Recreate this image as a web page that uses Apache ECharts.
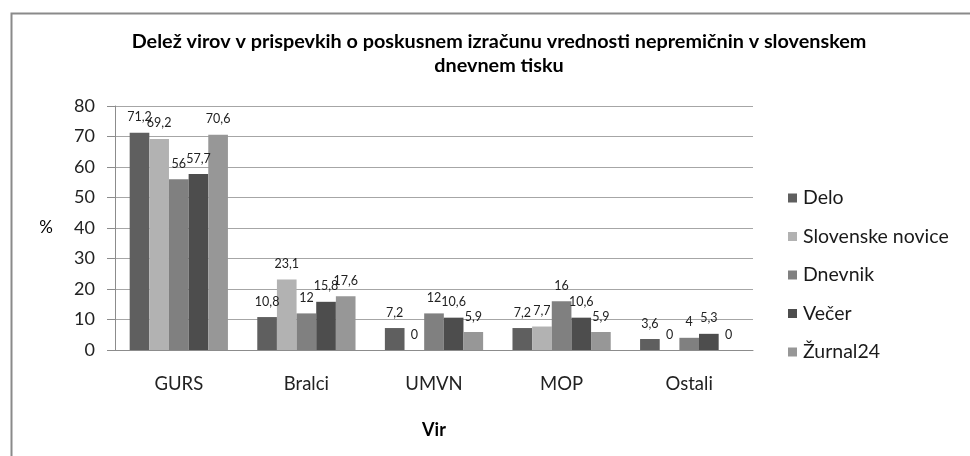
<!DOCTYPE html>
<html>
<head>
<meta charset="utf-8">
<script src="https://cdn.jsdelivr.net/npm/echarts@6/dist/echarts.min.js"></script>
<style>html,body{margin:0;padding:0;background:#fff}#c{width:970px;height:456px}</style>
</head>
<body>
<div id="c"></div>
<script>
const categories = ['GURS', 'Bralci', 'UMVN', 'MOP', 'Ostali'];
const seriesNames = ['Delo', 'Slovenske novice', 'Dnevnik', 'Večer', 'Žurnal24'];
const delo = [71.2, 10.8, 7.2, 7.2, 3.6];
const slovenskeNovice = [69.2, 23.1, 0, 7.7, 0];
const dnevnik = [56, 12, 12, 16, 4];
const vecer = [57.7, 15.8, 10.6, 10.6, 5.3];
const zurnal24 = [70.6, 17.6, 5.9, 5.9, 0];
const yTicks = [0, 10, 20, 30, 40, 50, 60, 70, 80];
const colors = ['#5f5f5f', '#b2b2b2', '#808080', '#4d4d4d', '#979797'];
const allValues = [delo, slovenskeNovice, dnevnik, vecer, zurnal24];
const FONT = 'Lato';

const chart = echarts.init(document.getElementById('c'), null, {renderer: 'canvas'});
chart.setOption({
  animation: false,
  backgroundColor: '#fff',
  textStyle: {fontFamily: FONT},
  graphic: [{
    type: 'rect', left: 9, top: 11,
    shape: {width: 1000, height: 500},
    style: {fill: 'none', stroke: '#8a8a8a', lineWidth: 2}
  }],
  title: {
    text: 'Delež virov v prispevkih o poskusnem izračunu vrednosti nepremičnin v slovenskem\ndnevnem tisku',
    left: 494, top: 25, textAlign: 'center',
    textStyle: {fontFamily: FONT, fontSize: 19.8, fontWeight: 'bold', color: '#000', lineHeight: 24}
  },
  legend: {
    orient: 'vertical', left: 783, top: 183,
    itemWidth: 9, itemHeight: 9, itemGap: 18.5,
    icon: 'rect',
    textStyle: {fontFamily: FONT, fontSize: 19.5, color: '#1a1a1a', padding: [0, 0, 0, 1]},
    data: seriesNames
  },
  grid: {left: 115, right: 217, top: 106, bottom: 106, containLabel: false},
  xAxis: {
    type: 'category', data: categories,
    name: 'Vir', nameLocation: 'middle', nameGap: 71,
    nameTextStyle: {fontFamily: FONT, fontSize: 18, fontWeight: 'bold', color: '#000'},
    axisLine: {lineStyle: {color: '#8c8c8c', width: 1}},
    axisTick: {show: false},
    axisLabel: {fontFamily: FONT, fontSize: 18.5, color: '#222', margin: 25}
  },
  yAxis: {
    type: 'value', min: yTicks[0], max: yTicks[yTicks.length - 1], interval: 10,
    name: '%', nameLocation: 'middle', nameRotate: 0, nameGap: 62,
    nameTextStyle: {fontFamily: FONT, fontSize: 17, color: '#000'},
    axisLine: {show: true, lineStyle: {color: '#8c8c8c', width: 1}},
    axisTick: {show: true, length: 8, lineStyle: {color: '#8c8c8c'}},
    splitLine: {lineStyle: {color: '#a6a6a6', width: 1}},
    axisLabel: {fontFamily: FONT, fontSize: 18, color: '#222', margin: 20}
  },
  series: seriesNames.map((name, i) => ({
    name, type: 'bar', data: allValues[i],
    barGap: '0%', barCategoryGap: '23%',
    itemStyle: {color: colors[i]},
    label: {
      show: true, position: 'top', distance: 9,
      fontFamily: FONT, fontSize: 12.5, color: '#222',
      formatter: p => String(p.value).replace('.', ',')
    }
  }))
});
</script>
</body>
</html>
